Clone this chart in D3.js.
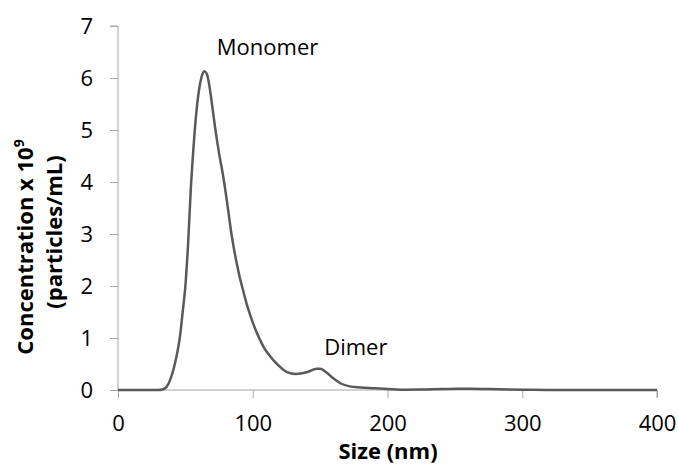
<!DOCTYPE html>
<html>
<head>
<meta charset="utf-8">
<script src="https://cdn.jsdelivr.net/npm/d3@7"></script>
<style>
  html, body { margin: 0; padding: 0; background: #fff; }
  svg { display: block; }
  text { font-family: "Open Sans", Lato, sans-serif; fill: #000; }
</style>
</head>
<body>
<svg id="chart" width="678" height="470"></svg>
<script>
// Particle size distribution (nm) vs concentration (x10^9 particles/mL)
const sizes = [0, 20, 30, 33, 36, 38, 41, 44, 46, 48, 50, 52, 54, 56, 58, 60, 62, 64, 66, 68, 70, 72, 75, 78, 81, 84.5, 88, 90.5, 93, 95, 98, 100, 103, 105.5, 108, 112, 118, 125, 132, 140, 147.5, 150, 155, 160, 165, 172, 180, 190, 200, 212, 225, 240, 252, 262, 275, 290, 305, 320, 400];
const concentration = [0, 0, 0, 0.01, 0.06, 0.15, 0.38, 0.72, 1.03, 1.5, 2.0, 2.8, 3.85, 4.65, 5.3, 5.75, 6.02, 6.13, 6.07, 5.82, 5.45, 5.06, 4.55, 4.12, 3.6, 2.95, 2.45, 2.15, 1.9, 1.7, 1.45, 1.3, 1.1, 0.96, 0.83, 0.68, 0.5, 0.35, 0.31, 0.34, 0.41, 0.41, 0.33, 0.22, 0.13, 0.07, 0.05, 0.035, 0.02, 0.005, 0.008, 0.02, 0.025, 0.025, 0.018, 0.01, 0.004, 0, 0];
const xTicks = [0, 100, 200, 300, 400];
const yTicks = [0, 1, 2, 3, 4, 5, 6, 7];
const annotations = [
  { label: "Monomer", size: 111, value: 6.44 },
  { label: "Dimer", size: 176.5, value: 0.67 }
];

const svg = d3.select("#chart");
const margin = { left: 118, right: 21, top: 26, bottom: 80 };
const W = 678, H = 470;
const x = d3.scaleLinear().domain([0, 400]).range([margin.left, W - margin.right]);
const y = d3.scaleLinear().domain([0, 7]).range([H - margin.bottom, margin.top]);

const axisColor = "#a6a6a6";
const font = "'Open Sans', Lato, sans-serif";

// Y axis
const yAxis = svg.append("g")
  .attr("transform", `translate(${x(0)},0)`)
  .call(d3.axisLeft(y).tickValues(yTicks).tickSize(8).tickPadding(17).tickFormat(d3.format("d")));
yAxis.selectAll("path, line").attr("stroke", axisColor).attr("stroke-width", 1);
yAxis.selectAll("text").attr("font-size", 22).attr("font-family", font).attr("fill", "#000");
yAxis.select(".domain").attr("d", `M-8,${y(7)}H0V${y(0)}`);

// X axis
const xAxis = svg.append("g")
  .attr("transform", `translate(0,${y(0)})`)
  .call(d3.axisBottom(x).tickValues(xTicks).tickSize(8).tickPadding(17).tickFormat(d3.format("d")));
xAxis.selectAll("path, line").attr("stroke", axisColor).attr("stroke-width", 1);
xAxis.selectAll("text").attr("font-size", 22).attr("font-family", font).attr("fill", "#000");
xAxis.select(".domain").attr("d", `M${x(0)},0H${x(400)}V8`);

// Line
const data = sizes.map((s, i) => ({ s, v: concentration[i] }));
svg.append("path")
  .datum(data)
  .attr("fill", "none")
  .attr("stroke", "#595959")
  .attr("stroke-width", 2.5)
  .attr("d", d3.line().x(d => x(d.s)).y(d => y(d.v)).curve(d3.curveMonotoneX));

// Annotations
svg.selectAll("text.anno")
  .data(annotations)
  .join("text")
  .attr("class", "anno")
  .attr("x", d => x(d.size))
  .attr("y", d => y(d.value))
  .attr("text-anchor", "middle")
  .attr("font-size", 22)
  .text(d => d.label);

// X axis title
svg.append("text")
  .attr("x", 388)
  .attr("y", 459)
  .attr("text-anchor", "middle")
  .attr("font-size", 22)
  .attr("font-weight", "bold")
  .text("Size (nm)");

// Y axis title (two lines)
const t1 = svg.append("text")
  .attr("transform", `translate(33,247) rotate(-90)`)
  .attr("text-anchor", "middle")
  .attr("font-size", 22)
  .attr("font-weight", "bold");
t1.append("tspan").text("Concentration x 10");
t1.append("tspan").attr("font-size", 14).attr("dy", -9).text("9");
svg.append("text")
  .attr("transform", `translate(62,232) rotate(-90)`)
  .attr("text-anchor", "middle")
  .attr("font-size", 22)
  .attr("font-weight", "bold")
  .text("(particles/mL)");
</script>
</body>
</html>
